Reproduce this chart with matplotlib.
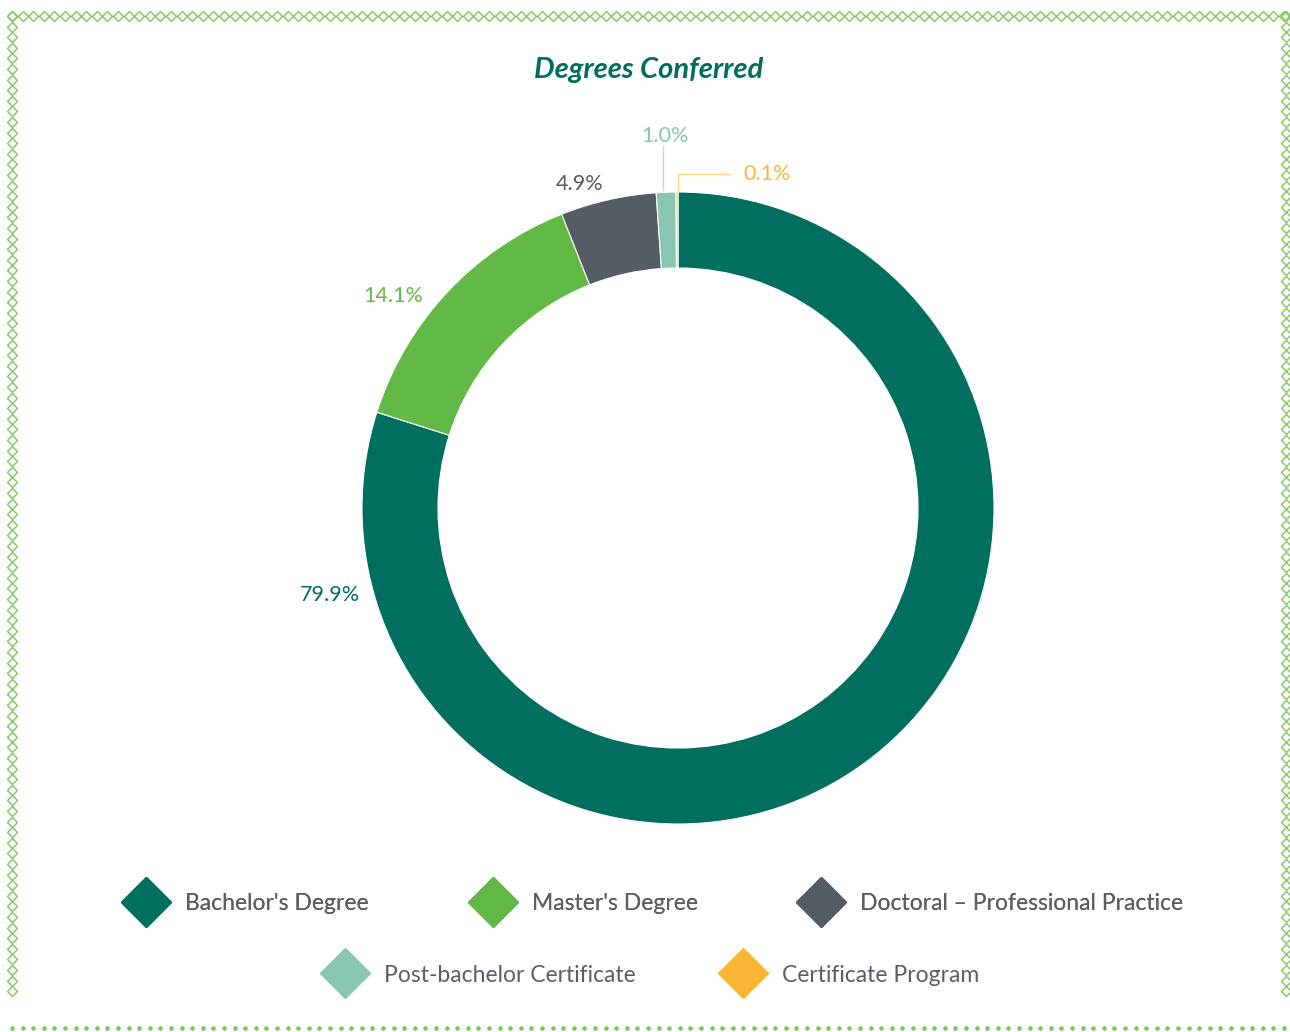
import matplotlib.pyplot as plt
from matplotlib.lines import Line2D
import numpy as np

categories = ["Bachelor's Degree", "Master's Degree", "Doctoral \u2013 Professional Practice",
              "Post-bachelor Certificate", "Certificate Program"]
shares = [79.9, 14.1, 4.9, 1.0, 0.1]
colors = ["#006f60", "#62b946", "#565c64", "#88c5b2", "#fbb534"]
pct_labels = ["79.9%", "14.1%", "4.9%", "1.0%", "0.1%"]

plt.rcParams['font.family'] = ['Lato', 'DejaVu Sans']

W, H = 1290, 1032
fig = plt.figure(figsize=(W / 100, H / 100), dpi=100)
ax = fig.add_axes([0, 0, 1, 1])

cx, cy, R = 678, H - 508, 316
wedges, _ = ax.pie(shares, colors=colors, startangle=90, counterclock=False,
                   radius=R, center=(cx, cy),
                   wedgeprops=dict(width=R - 240, edgecolor="white", linewidth=0.8))
ax.set_xlim(0, W)
ax.set_ylim(0, H)
ax.set_aspect("equal")
ax.axis("off")

# percentage labels (offsets from the centre, pixels)
offsets = [(-348, -87), (-285, 212), (-98, 324), (-13, 372), (89, 334)]
for (dx, dy), txt, c in zip(offsets, pct_labels, colors):
    ax.text(cx + dx, cy + dy, txt, color=c, fontsize=15.5, ha="center", va="center")

# leader lines for the two thin slices
ax.plot([cx - 15, cx - 15], [cy + 318, cy + 362], color=colors[3], lw=1, alpha=0.6)
ax.plot([cx, cx, cx + 52], [cy + 318, cy + 334, cy + 334], color=colors[4], lw=1, alpha=0.6)

ax.text(cx - 29, H - 70, "Degrees Conferred", color="#006e5a", fontsize=21,
        fontweight="bold", fontstyle="italic", ha="center", va="center")

# decorative diamond border
bc = "#7cc65a"
xs = np.arange(12, 1288, 10.6)
ys = np.arange(H - 16, 40, -10.6)
ax.plot(xs, np.full_like(xs, H - 16), ls="none", marker="D", ms=5.5, mfc="none", mec=bc, mew=1)
ax.plot(np.full_like(ys, 12), ys, ls="none", marker="D", ms=5.5, mfc="none", mec=bc, mew=1)
ax.plot(np.full_like(ys, 1286), ys, ls="none", marker="D", ms=5.5, mfc="none", mec=bc, mew=1)
ax.plot(xs, np.full_like(xs, 4), ls="none", marker="D", ms=2, mfc=bc, mec=bc)

# legend in two centred rows
handles = [Line2D([], [], ls="none", marker="D", ms=25.5, mfc=c, mec=c) for c in colors]
kw = dict(frameon=False, fontsize=16.5, labelcolor="#5a5f66", handletextpad=1.0,
          handlelength=1.4, borderaxespad=0)
leg1 = fig.legend(handles[:3], categories[:3], ncol=3, loc="center", columnspacing=4.7,
                  bbox_to_anchor=(657 / W, 1 - 904 / H), **kw)
fig.add_artist(leg1)
fig.legend(handles[3:], categories[3:], ncol=2, loc="center", columnspacing=4.0,
           bbox_to_anchor=(654 / W, 1 - 975 / H), **kw)

fig.savefig("out.png", dpi=100)
